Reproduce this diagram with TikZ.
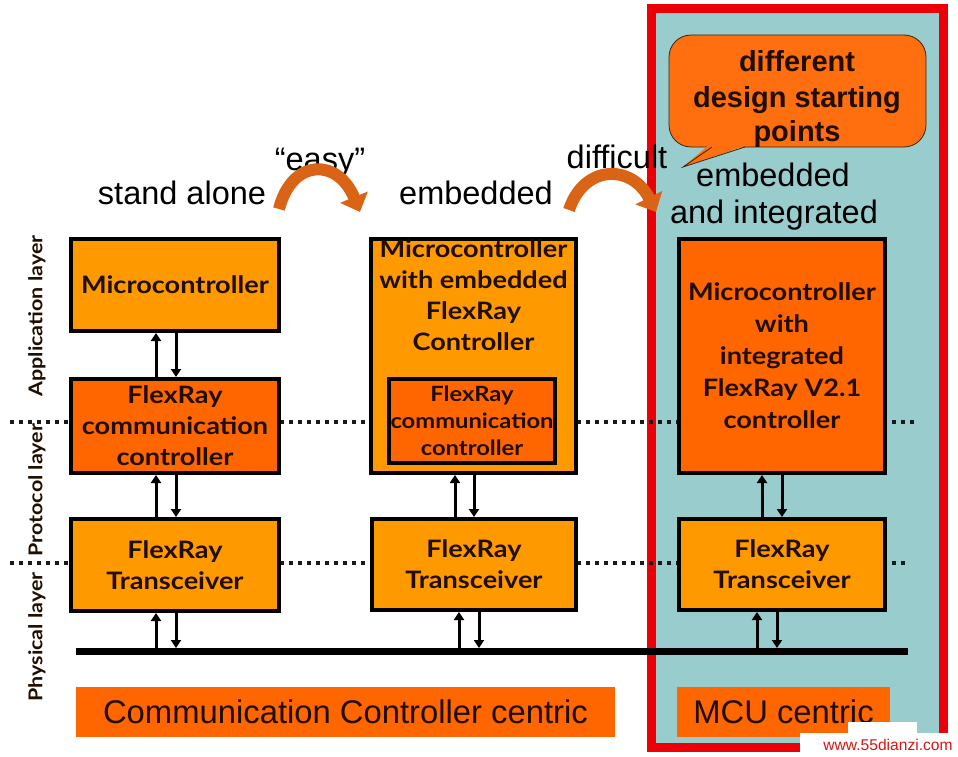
\documentclass[tikz,border=0pt]{standalone}
\usepackage{fontspec}
\setmainfont{Liberation Sans}
\newfontfamily\boxfont{Lato}[BoldFeatures={FakeStretch=1.13}]
\usetikzlibrary{arrows.meta,calc}
\definecolor{lorange}{RGB}{255,153,0}
\definecolor{dorange}{RGB}{255,102,0}
\definecolor{callo}{RGB}{255,110,15}
\definecolor{teal}{RGB}{153,204,204}
\definecolor{redb}{RGB}{236,0,8}
\definecolor{btext}{RGB}{32,14,0}
\definecolor{carr}{RGB}{218,100,22}
\definecolor{wmred}{RGB}{220,20,20}
\definecolor{dotc}{RGB}{25,25,25}
\begin{document}
\begin{tikzpicture}[x=1pt,y=-1pt,
  box/.style={draw=black, line width=4pt, fill=lorange, inner sep=0pt, align=center,
    font=\boxfont\bfseries\fontsize{24}{31}\selectfont, text=btext},
  darkbox/.style={box, fill=dorange},
  boxtxt/.style={align=center, inner sep=0pt, font=\boxfont\bfseries\fontsize{24}{31}\selectfont, text=btext},
  arr/.style={line width=3pt, -{Triangle[length=8pt,width=10pt]}},
  dotline/.style={line width=4pt, dash pattern=on 4pt off 5pt, dotc},
  curvearrow/.style={line width=12pt, carr, -{Triangle[length=16pt,width=29pt]}},
  toptext/.style={anchor=base, inner sep=0pt, font=\fontsize{32.5}{36}\selectfont, text=black},
  callouttxt/.style={anchor=base, inner sep=0pt, font=\bfseries\fontsize{29}{29}\selectfont, text=btext},
  layertxt/.style={rotate=90, inner sep=0pt, font=\boxfont\bfseries\fontsize{19}{19}\selectfont, text=btext},
  bottomlbl/.style={fill=dorange, inner sep=0pt, font=\fontsize{32.8}{33}\selectfont, text=btext}
]
\useasboundingbox (0,0) rectangle (958,757);
\fill[white] (0,0) rectangle (958,757);

% MCU centric region
\draw[redb, line width=9pt, fill=teal] (651,9) rectangle (943,747);

% layer separators
\draw[dotline] (10,422) -- (917,422);
\draw[dotline] (10,563) -- (905,563);

% layer labels
\node[layertxt] (lapp) at (37,316) {Application layer};
\node[layertxt] (lpro) at (37,490) {Protocol layer};
\node[layertxt] (lphy) at (37,637) {Physical layer};

% top labels
\node[toptext] (tstand) at (182,204) {stand alone};
\node[toptext] (tembed) at (476,204) {embedded};
\node[toptext] (teasy) at (320,170) {“easy”};
\node[toptext] (tdiff) at (617,168) {difficult};
\node[toptext] (tembint1) at (773,186) {embedded};
\node[toptext] (tembint2) at (774,223) {and integrated};

% curved arrows
\draw[curvearrow] (279,209) .. controls (292,158) and (338,158) .. (360,212);
\draw[curvearrow] (569,210) .. controls (584,164) and (632,164) .. (656,212);

% callout
\draw[fill=callo, draw=black!70!brown, line width=0.8pt, rounded corners=22pt] (669,35) rectangle (926,147);
\fill[callo] (709,145) -- (683,167) -- (748,145) -- cycle;
\draw[draw=black!70!brown, line width=0.8pt] (712,147) -- (683,167) -- (745,147);
\node[callouttxt] (c1) at (797,72) {different};
\node[callouttxt] (c2) at (797,108) {design starting};
\node[callouttxt] (c3) at (797,142) {points};

% left column
\node[box, minimum width=208pt, minimum height=92pt] (m1) at (175,285) {Microcontroller};
\node[darkbox, minimum width=208pt, minimum height=94pt] (c1b) at (175,426) {FlexRay\\communication\\controller};
\node[box, minimum width=208pt, minimum height=92pt] (t1) at (175,565) {FlexRay\\Transceiver};

% middle column
\node[box, minimum width=205pt, minimum height=234pt] (m2) at (473.5,356) {};
\node[boxtxt] (m2t) at (473.5,295) {Microcontroller\\with embedded\\FlexRay\\Controller};
\node[darkbox, minimum width=166pt, minimum height=84pt, font=\boxfont\bfseries\fontsize{21}{27}\selectfont] (c2b) at (472,421) {FlexRay\\communication\\controller};
\node[box, minimum width=204pt, minimum height=91pt] (t2) at (474,564.5) {FlexRay\\Transceiver};

% right column
\node[darkbox, minimum width=206pt, minimum height=234pt, font=\boxfont\bfseries\fontsize{24}{32}\selectfont] (m3) at (782,356) {Microcontroller\\with\\integrated\\FlexRay V2.1\\controller};
\node[box, minimum width=206pt, minimum height=91pt] (t3) at (782,564.5) {FlexRay\\Transceiver};

% bus
\coordinate (busL) at (76,651);
\coordinate (busR) at (908,651);
\draw[line width=7pt] (busL) -- (busR);

% x positions of connectors
\coordinate (xl1) at (156,0); \coordinate (xl2) at (176,0);
\coordinate (xm1) at (455,0); \coordinate (xm2) at (474,0);
\coordinate (xm3) at (459,0); \coordinate (xm4) at (479,0);
\coordinate (xr1) at (762,0); \coordinate (xr2) at (782,0);
\coordinate (xr3) at (757,0); \coordinate (xr4) at (777,0);
\coordinate (busT) at (0,648);

% left connectors
\draw[arr] (xl1 |- c1b.north) -- (xl1 |- m1.south);
\draw[arr] (xl2 |- m1.south) -- (xl2 |- c1b.north);
\draw[arr] (xl1 |- t1.north) -- (xl1 |- c1b.south);
\draw[arr] (xl2 |- c1b.south) -- (xl2 |- t1.north);
\draw[arr] (xl1 |- busT) -- (xl1 |- t1.south);
\draw[arr] (xl2 |- t1.south) -- (xl2 |- busT);
% middle connectors
\draw[arr] (xm1 |- t2.north) -- (xm1 |- m2.south);
\draw[arr] (xm2 |- m2.south) -- (xm2 |- t2.north);
\draw[arr] (xm3 |- busT) -- (xm3 |- t2.south);
\draw[arr] (xm4 |- t2.south) -- (xm4 |- busT);
% right connectors
\draw[arr] (xr1 |- t3.north) -- (xr1 |- m3.south);
\draw[arr] (xr2 |- m3.south) -- (xr2 |- t3.north);
\draw[arr] (xr3 |- busT) -- (xr3 |- t3.south);
\draw[arr] (xr4 |- t3.south) -- (xr4 |- busT);

% bottom labels
\node[bottomlbl, minimum width=539pt, minimum height=50pt] (ccc) at (345.5,712) {Communication Controller centric};
\node[bottomlbl, minimum width=213pt, minimum height=50pt] (mcu) at (783.5,712) {MCU centric};

% watermark
\fill[white] (800,733) rectangle (958,757);
\fill[white] (848,722) rectangle (917,733);
\node[anchor=base, inner sep=0pt, text=wmred, font=\fontsize{15.6}{16}\selectfont] (wm) at (888,750) {www.55dianzi.com};
\end{tikzpicture}
\end{document}
